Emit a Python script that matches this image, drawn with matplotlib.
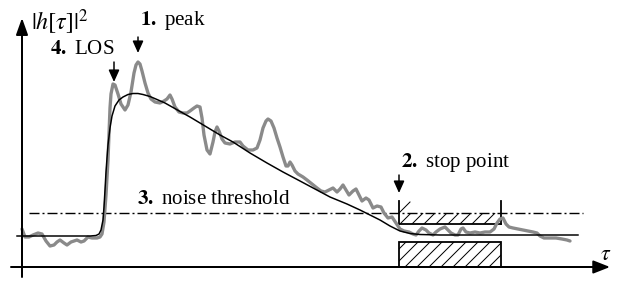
import matplotlib
matplotlib.use("Agg")
import matplotlib.pyplot as plt
from matplotlib.patches import Rectangle

plt.rcParams['font.family'] = ['Liberation Serif', 'DejaVu Serif']
plt.rcParams['mathtext.fontset'] = 'stix'
plt.rcParams['lines.scale_dashes'] = False
plt.rcParams['hatch.linewidth'] = 1.0

# ---- data (pixel-space coordinates of the sketch) ----
gray_x = [22, 25, 29, 33, 38, 42, 46, 50, 54, 57, 60, 64, 67, 71, 77, 81, 84, 88, 92, 97,
          100, 102, 104, 106, 108, 109, 110, 111, 113, 115, 118, 121, 125, 128, 131, 134, 136,
          138, 140, 142, 145, 148, 151, 155, 160, 164, 167, 170, 172, 175, 179, 183, 187, 190,
          194, 197, 200, 202, 204, 207, 210, 213, 215, 217, 219, 222, 225, 230, 235, 240, 243,
          248, 253, 257, 260, 263, 266, 268, 271, 274, 277, 280, 283, 286, 288, 290, 292, 295,
          298, 303, 307, 312, 317, 321, 325, 329, 333, 337, 340, 343, 346, 349, 353, 356, 359,
          362, 366, 369, 373, 377, 381, 384, 388, 392, 396, 400, 404, 409, 413, 416, 419, 422,
          426, 429, 433, 436, 440, 445, 448, 451, 455, 458, 461, 463, 466, 470, 475, 480, 485,
          490, 494, 497, 500, 503, 506, 509, 513, 518, 523, 528, 533, 537, 540, 544, 550, 556,
          562, 567, 570]
gray_y = [229, 237, 237, 235, 233, 234, 241, 246, 245, 242, 240, 243, 245, 242, 240, 242, 241,
          237, 238, 238, 237, 234, 222, 195, 160, 135, 108, 94, 84, 85, 94, 104, 110, 105, 92,
          73, 65, 62, 64, 71, 83, 93, 99, 102, 103, 101, 99, 95, 99, 107, 112, 113, 113, 111,
          108, 106, 107, 118, 135, 150, 154, 142, 132, 127, 131, 139, 143, 144, 142, 142, 146,
          150, 150, 148, 140, 128, 121, 119, 121, 128, 138, 147, 157, 166, 166, 162, 165, 171,
          174, 177, 180, 184, 188, 191, 192, 190, 188, 192, 189, 185, 190, 195, 191, 189, 195,
          201, 198, 200, 208, 206, 207, 213, 218, 217, 223, 229, 231, 232, 234, 235, 231, 228,
          230, 233, 235, 232, 229, 227, 230, 233, 235, 235, 229, 228, 232, 233, 232, 233, 232,
          232, 229, 223, 219, 218, 224, 227, 228, 229, 230, 231, 232, 233, 236, 238, 238, 238,
          239, 240, 241]

fit_x = [17, 40, 70, 90, 96, 99, 101, 103, 104, 105, 106, 107, 108, 110, 112, 115, 119, 123,
         128, 133, 138, 143, 150, 157, 165, 173, 181, 190, 200, 210, 220, 233, 250, 267, 283,
         300, 315, 330, 347, 360, 370, 380, 390, 400, 410, 420, 440, 480, 530, 578]
fit_y = [236, 236, 236, 236, 235.5, 234, 230, 220, 207, 190, 172, 158, 145, 128, 116, 106,
         100, 97, 94.5, 93.5, 93.5, 94.5, 96.5, 99.5, 103, 107.5, 112, 117, 123, 129, 135, 142,
         153, 163, 172, 181, 189, 197, 204, 210, 215, 220, 226, 231, 233.5, 234.5, 235, 235,
         235, 235]

noise_level = 213
noise_x = [29, 583]
window = [399, 501]

labels = {
    'peak': (r'$\mathbf{1.}$ peak', 140, 20),
    'los': (r'$\mathbf{4.}$ LOS', 50, 50),
    'stop': (r'$\mathbf{2.}$ stop point', 401, 163),
    'noise': (r'$\mathbf{3.}$ noise threshold', 137, 200),
}

fig = plt.figure(figsize=(630 / 72, 284 / 72), dpi=72)
ax = fig.add_axes([0, 0, 1, 1])
ax.set_xlim(0, 630)
ax.set_ylim(284, 0)
ax.axis('off')

# axes arrows
ax.annotate('', xy=(610, 267), xytext=(11, 267),
            arrowprops=dict(arrowstyle='-|>,head_length=1.4,head_width=0.55',
                            lw=2, color='k', shrinkA=0, shrinkB=0))
ax.annotate('', xy=(22, 18), xytext=(22, 277),
            arrowprops=dict(arrowstyle='-|>,head_length=1.4,head_width=0.5',
                            lw=2, color='k', shrinkA=0, shrinkB=0))

# noise threshold
ax.plot(noise_x, [noise_level, noise_level], color='k', lw=1.4,
        linestyle=(0, (10, 3, 2, 3)))

# upper hatched window
ax.add_patch(Rectangle((window[0], noise_level), window[1] - window[0], 224 - noise_level,
                       facecolor='none', edgecolor='k', lw=0, hatch='//'))
ax.plot([window[0], window[0]], [201, 224], color='k', lw=1.8)
ax.plot([window[1], window[1]], [201, 224], color='k', lw=1.8)
ax.plot(window, [224, 224], color='k', lw=1.8)
ax.plot([window[0], window[0] + 11], [noise_level, 202], color='k', lw=1.0)

# lower hatched window
ax.add_patch(Rectangle((window[0], 242), window[1] - window[0], 25,
                       facecolor='none', edgecolor='k', lw=1.8, hatch='//'))

# noisy PDP and smooth fit
ax.plot(gray_x, gray_y, color='#8a8a8a', lw=3.3, solid_joinstyle='round',
        solid_capstyle='round')
ax.plot(fit_x, fit_y, color='k', lw=1.5)

# annotation arrows
for x, y0, y1 in [(138, 37, 53), (114, 62, 82), (399, 175, 193)]:
    ax.annotate('', xy=(x, y1), xytext=(x, y0),
                arrowprops=dict(arrowstyle='-|>,head_length=1.0,head_width=0.45',
                                lw=1.5, color='k', shrinkA=0, shrinkB=0))

for key, (txt, x, y) in labels.items():
    ax.text(x, y, txt, fontsize=21, ha='left', va='center')

ax.text(31, 22, r'$|h[\tau]|^2$', fontsize=24, ha='left', va='center')
ax.text(600, 255, r'$\tau$', fontsize=22, ha='left', va='center')

fig.savefig('out.png', dpi=72)
